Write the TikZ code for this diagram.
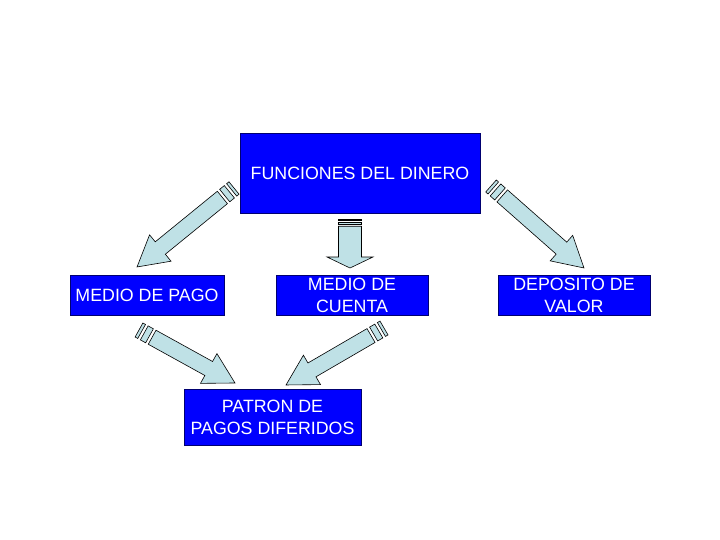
\documentclass[tikz,border=0pt]{standalone}
\usepackage{fontspec}
\setmainfont{Liberation Sans}
\usetikzlibrary{calc}
\definecolor{boxfill}{HTML}{0000FF}
\definecolor{boxstr}{HTML}{000070}
\definecolor{arrfill}{HTML}{BFE1E6}
\tikzset{
  dbox/.style   ={rectangle, draw=boxstr, fill=boxfill, line width=0.9pt,
                  text=white, align=center, inner sep=0pt,
                  font=\fontsize{17.8}{22}\selectfont},
  band/.style   ={draw=black, fill=arrfill, line width=0.6pt},
  % striped block arrow: length, half shaft, half head, head length, stripe unit
  pics/bandarrow/.style n args={5}{code={
    \draw[band] ({5*#5*1pt},{-#2*1pt}) -- ({#1-#4*1pt},{-#2*1pt}) -- ({#1-#4*1pt},{-#3*1pt})
      -- (#1,0pt) -- ({#1-#4*1pt},{#3*1pt}) -- ({#1-#4*1pt},{#2*1pt}) -- ({5*#5*1pt},{#2*1pt}) -- cycle;
    \draw[band] (0pt,{-#2*1pt}) rectangle ({#5*1pt},{#2*1pt});
    \draw[band] ({2*#5*1pt},{-#2*1pt}) rectangle ({4*#5*1pt},{#2*1pt});
  }},
}
\newcommand{\bandarrow}[3]{%
  \path let \p1=(#1), \p2=(#2), \n1={atan2(\y2-\y1,\x2-\x1)},
    \n2={veclen(\x2-\x1,\y2-\y1)} in pic[rotate=\n1] at (\p1) {bandarrow={\n2}#3};
}

\begin{document}
\begin{tikzpicture}[x=1pt, y=-1pt]
    \fill[white] (0,0) rectangle (720,540);
    \useasboundingbox (0,0) rectangle (720,540);
    \node[dbox, minimum width=240pt, minimum height=80pt] (fun) at (360,173) {FUNCIONES DEL DINERO};
    \node[dbox, minimum width=154pt, minimum height=40pt] (pago) at (147,295) {MEDIO DE PAGO};
    \node[dbox, minimum width=152pt, minimum height=40pt] (cuenta) at (352,295) {MEDIO DE\\CUENTA};
    \node[dbox, minimum width=152pt, minimum height=40pt] (valor) at (574,295) {DEPOSITO DE\\VALOR};
    \node[dbox, minimum width=177pt, minimum height=56pt] (patron) at (272.5,417) {PATRON DE\\PAGOS DIFERIDOS};
    \coordinate (pagoS) at (234,188);
    \coordinate (pagoE) at (137,267);
    \coordinate (cuentaS) at (350,219);
    \coordinate (cuentaE) at (350,268);
    \coordinate (valorS) at (491,186);
    \coordinate (valorE) at (584,268);
    \coordinate (patlS) at (139,330);
    \coordinate (patlE) at (235,383);
    \coordinate (patrS) at (384,328);
    \coordinate (patrE) at (286,385);
    \bandarrow{pagoS}{pagoE}{{8}{17}{30}{3}}
    \bandarrow{cuentaS}{cuentaE}{{11.5}{23}{11}{1.45}}
    \bandarrow{valorS}{valorE}{{8}{17}{30}{3}}
    \bandarrow{patlS}{patlE}{{8}{17}{30}{3}}
    \bandarrow{patrS}{patrE}{{8}{17}{30}{3}}
  \end{tikzpicture}
\end{document}
